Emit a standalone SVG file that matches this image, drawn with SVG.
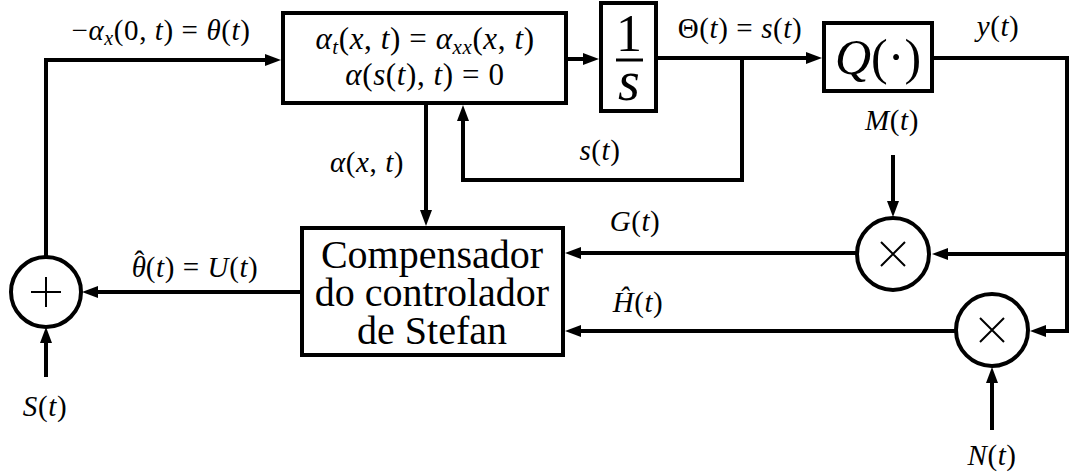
<svg xmlns="http://www.w3.org/2000/svg" width="1070" height="476" viewBox="0 0 1070 476">
<defs>
<marker id="ah" markerWidth="16" markerHeight="12" refX="0" refY="6" orient="auto" markerUnits="userSpaceOnUse">
<path d="M0,0 L16,6 L0,12 z" fill="#000"/>
</marker>
</defs>
<rect width="1070" height="476" fill="#fff"/>
<g id="connectors" fill="none" stroke="#000" stroke-width="4">
<path d="M46,257 V60 H265" marker-end="url(#ah)"/>
<path d="M566,59 H583" marker-end="url(#ah)"/>
<path d="M657,58 H806" marker-end="url(#ah)"/>
<path d="M742,58 V180 H463 V121" marker-end="url(#ah)"/>
<path d="M932,58 H1067 V331 H1046" marker-end="url(#ah)"/>
<path d="M1067,254 H948" marker-end="url(#ah)"/>
<path d="M893,155 V201" marker-end="url(#ah)"/>
<path d="M992,430 V383" marker-end="url(#ah)"/>
<path d="M856,253 H581" marker-end="url(#ah)"/>
<path d="M956,331 H581" marker-end="url(#ah)"/>
<path d="M426,103 V210" marker-end="url(#ah)"/>
<path d="M302,292 H98" marker-end="url(#ah)"/>
<path d="M46,377 V343" marker-end="url(#ah)"/>
</g>
<g id="pde">
<rect x="283" y="13" width="283" height="90" fill="#fff" stroke="#000" stroke-width="4"/>
<text x="425" y="49" font-family="serif" font-size="31" text-anchor="middle" letter-spacing="0.6"><tspan font-style="italic">α</tspan><tspan font-size="21" font-style="italic" dy="5">t</tspan><tspan dy="-5">(</tspan><tspan font-style="italic">x</tspan>, <tspan font-style="italic">t</tspan>) = <tspan font-style="italic">α</tspan><tspan font-size="21" font-style="italic" dy="5">xx</tspan><tspan dy="-5">(</tspan><tspan font-style="italic">x</tspan>, <tspan font-style="italic">t</tspan>)</text>
<text x="425" y="85" font-family="serif" font-size="31" text-anchor="middle" letter-spacing="0.6"><tspan font-style="italic">α</tspan>(<tspan font-style="italic">s</tspan>(<tspan font-style="italic">t</tspan>), <tspan font-style="italic">t</tspan>) = 0</text>
</g>
<g id="integrator">
<rect x="601" y="3" width="55" height="108" fill="#fff" stroke="#000" stroke-width="4"/>
<text x="629" y="51" font-family="serif" font-size="52" text-anchor="middle">1</text>
<line x1="616" y1="60" x2="643" y2="60" stroke="#000" stroke-width="3"/>
<text x="629" y="100" font-family="serif" font-size="56" font-style="italic" text-anchor="middle">s</text>
</g>
<g id="quantizer">
<rect x="824" y="23" width="108" height="68" fill="#fff" stroke="#000" stroke-width="4"/>
<text x="878" y="74" font-family="serif" font-size="50" text-anchor="middle"><tspan font-style="italic">Q</tspan>(·)</text>
</g>
<g id="compensator">
<rect x="302" y="228" width="261" height="127" fill="#fff" stroke="#000" stroke-width="4"/>
<text x="432" y="268" font-family="serif" font-size="40" text-anchor="middle">Compensador</text>
<text x="432" y="306" font-family="serif" font-size="40" text-anchor="middle">do controlador</text>
<text x="432" y="344" font-family="serif" font-size="40" text-anchor="middle">de Stefan</text>
</g>
<g id="mult1" fill="none" stroke="#000">
<circle cx="893" cy="254" r="36" fill="#fff" stroke-width="4"/>
<path d="M881,242 L905,266 M905,242 L881,266" stroke-width="2"/>
</g>
<g id="mult2" fill="none" stroke="#000">
<circle cx="992" cy="330" r="36" fill="#fff" stroke-width="4"/>
<path d="M980,318 L1004,342 M1004,318 L980,342" stroke-width="2"/>
</g>
<g id="sum" fill="none" stroke="#000">
<circle cx="46" cy="292" r="35" fill="#fff" stroke-width="4"/>
<path d="M31,292 H61 M46,277 V307" stroke-width="2"/>
</g>
<g id="labels">
<text x="161" y="40" font-family="serif" font-size="29" text-anchor="middle" letter-spacing="0.6">−<tspan font-style="italic">α</tspan><tspan font-size="20" font-style="italic" dy="5">x</tspan><tspan dy="-5">(0, </tspan><tspan font-style="italic">t</tspan>) = <tspan font-style="italic">θ</tspan>(<tspan font-style="italic">t</tspan>)</text>
<text x="740" y="38" font-family="serif" font-size="29" text-anchor="middle" letter-spacing="0.6">Θ(<tspan font-style="italic">t</tspan>) = <tspan font-style="italic">s</tspan>(<tspan font-style="italic">t</tspan>)</text>
<text x="998" y="36" font-family="serif" font-size="29" text-anchor="middle" letter-spacing="0.6"><tspan font-style="italic">y</tspan>(<tspan font-style="italic">t</tspan>)</text>
<text x="892" y="130" font-family="serif" font-size="29" text-anchor="middle" letter-spacing="0.6"><tspan font-style="italic">M</tspan>(<tspan font-style="italic">t</tspan>)</text>
<text x="600" y="160" font-family="serif" font-size="29" text-anchor="middle" letter-spacing="0.6"><tspan font-style="italic">s</tspan>(<tspan font-style="italic">t</tspan>)</text>
<text x="367" y="172" font-family="serif" font-size="29" text-anchor="middle" letter-spacing="0.6"><tspan font-style="italic">α</tspan>(<tspan font-style="italic">x</tspan>, <tspan font-style="italic">t</tspan>)</text>
<text x="635" y="231" font-family="serif" font-size="29" text-anchor="middle" letter-spacing="0.6"><tspan font-style="italic">G</tspan>(<tspan font-style="italic">t</tspan>)</text>
<text x="638" y="312" font-family="serif" font-size="29" text-anchor="middle" letter-spacing="0.6"><tspan font-style="italic">Ĥ</tspan>(<tspan font-style="italic">t</tspan>)</text>
<text x="195" y="277" font-family="serif" font-size="29" text-anchor="middle" letter-spacing="0.6"><tspan font-style="italic">θ</tspan><tspan dx="-12" dy="-6">ˆ</tspan><tspan dx="1" dy="6">(</tspan><tspan font-style="italic">t</tspan>) = <tspan font-style="italic">U</tspan>(<tspan font-style="italic">t</tspan>)</text>
<text x="45" y="416" font-family="serif" font-size="29" text-anchor="middle" letter-spacing="0.6"><tspan font-style="italic">S</tspan>(<tspan font-style="italic">t</tspan>)</text>
<text x="992" y="465" font-family="serif" font-size="29" text-anchor="middle" letter-spacing="0.6"><tspan font-style="italic">N</tspan>(<tspan font-style="italic">t</tspan>)</text>
</g>
</svg>
